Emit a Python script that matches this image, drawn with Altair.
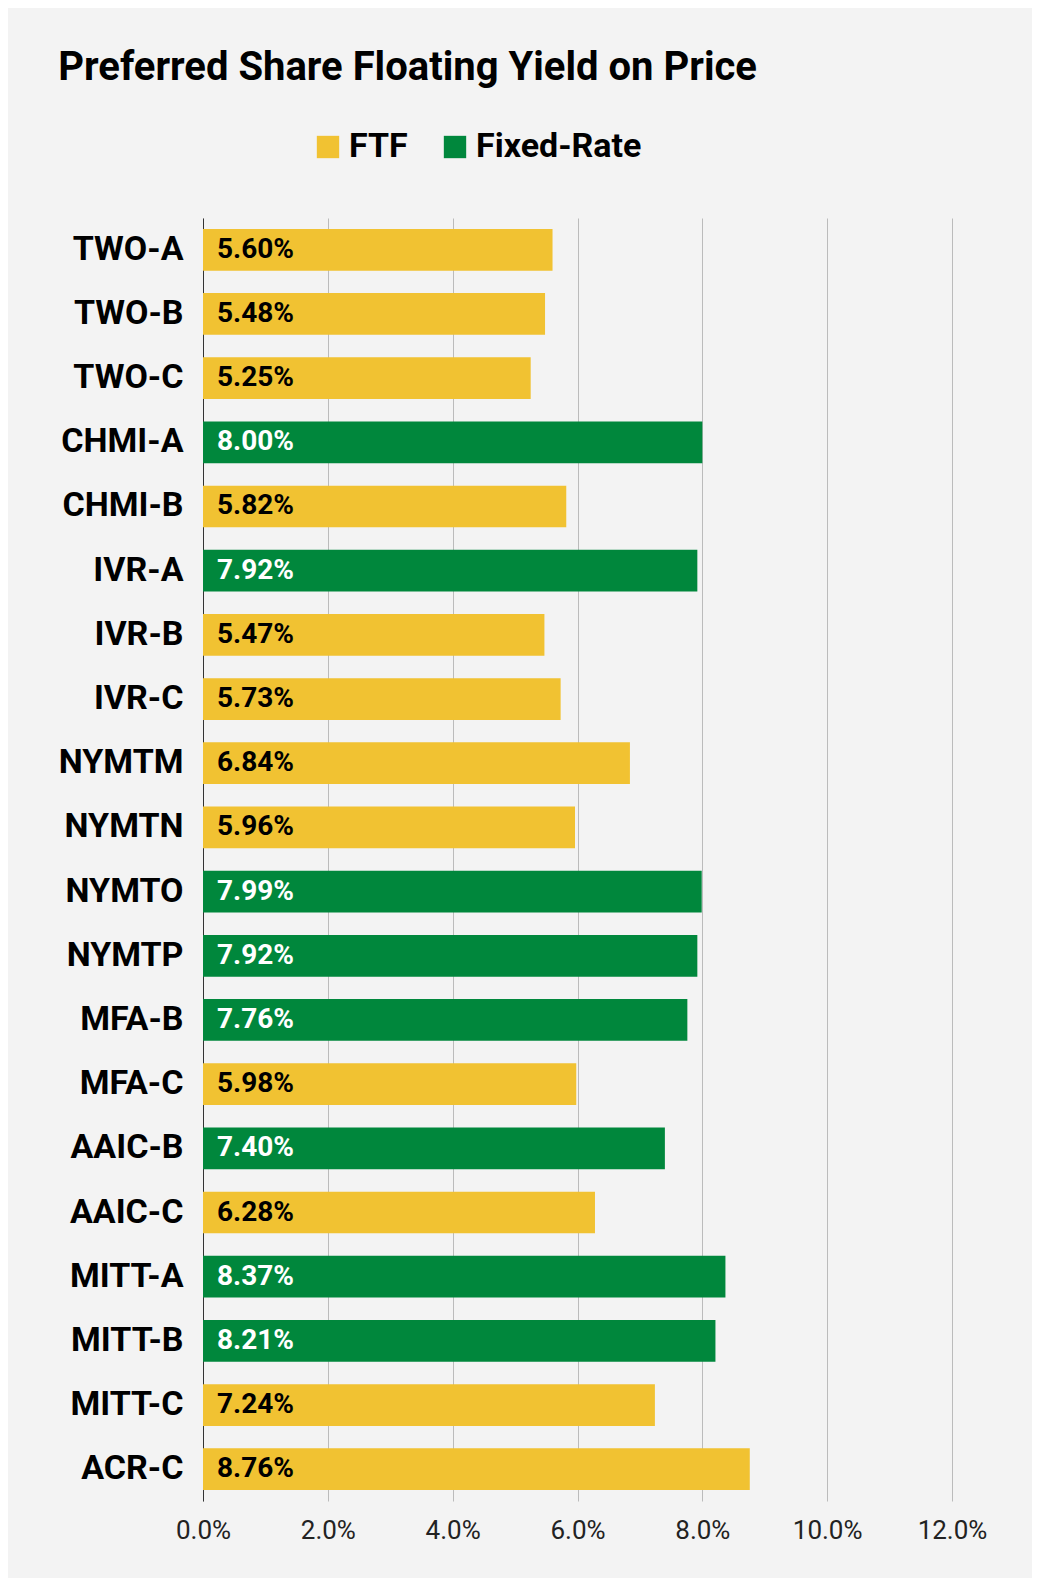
import pandas as pd
import altair as alt

tickers = ["TWO-A", "TWO-B", "TWO-C", "CHMI-A", "CHMI-B", "IVR-A", "IVR-B", "IVR-C",
           "NYMTM", "NYMTN", "NYMTO", "NYMTP", "MFA-B", "MFA-C", "AAIC-B", "AAIC-C",
           "MITT-A", "MITT-B", "MITT-C", "ACR-C"]
yields = [5.60, 5.48, 5.25, 8.00, 5.82, 7.92, 5.47, 5.73, 6.84, 5.96,
          7.99, 7.92, 7.76, 5.98, 7.40, 6.28, 8.37, 8.21, 7.24, 8.76]
types = ["FTF", "FTF", "FTF", "Fixed-Rate", "FTF", "Fixed-Rate", "FTF", "FTF", "FTF", "FTF",
         "Fixed-Rate", "Fixed-Rate", "Fixed-Rate", "FTF", "Fixed-Rate", "FTF",
         "Fixed-Rate", "Fixed-Rate", "FTF", "FTF"]

df = pd.DataFrame({"ticker": tickers, "y": [v / 100 for v in yields], "type": types})
df["label"] = [f"{v:.2f}%" for v in yields]

font = "Roboto"
y_enc = alt.Y("ticker:N", sort=tickers, title=None,
              scale=alt.Scale(paddingInner=0.35, paddingOuter=0.17),
              axis=alt.Axis(labelFontSize=34, labelFontWeight="bold", labelColor="#000",
                            labelPadding=20, ticks=False, domainColor="#333", labelFont=font))

bars = alt.Chart(df).mark_bar().encode(
    x=alt.X("y:Q", title=None, scale=alt.Scale(domain=[0, 0.12]),
            axis=alt.Axis(format=".1%", values=[0, .02, .04, .06, .08, .10, .12],
                          labelFontSize=26, labelColor="#222", gridColor="#bbb",
                          domain=False, ticks=False, labelPadding=16, labelFont=font,
                          labelFlush=False, labelOverlap=False, labelBound=False)),
    y=y_enc,
    color=alt.Color("type:N", sort=["FTF", "Fixed-Rate"],
                    scale=alt.Scale(domain=["FTF", "Fixed-Rate"], range=["#f1c232", "#00873c"]),
                    legend=alt.Legend(title=None, orient="none", direction="horizontal",
                                      legendX=108, legendY=-88,
                                      symbolType="square", symbolSize=500, labelFontSize=34,
                                      labelFontWeight="bold", labelColor="#000", labelFont=font,
                                      labelLimit=0, columnPadding=30, symbolOffset=0)),
)

text = alt.Chart(df).mark_text(align="left", dx=14, fontSize=28, fontWeight="bold", font=font).encode(
    x=alt.datum(0),
    y=alt.Y("ticker:N", sort=tickers),
    text="label:N",
    color=alt.Color("type:N", scale=alt.Scale(domain=["FTF", "Fixed-Rate"], range=["#000", "#fff"]),
                    legend=None),
)

chart = (bars + text).resolve_scale(color="independent").properties(
    width=1024, height=1570, background="#f3f3f3",
    autosize=alt.AutoSizeParams(type="fit", contains="padding"),
    padding={"left": 50, "top": 40, "right": 45, "bottom": 35},
    title=alt.TitleParams("Preferred Share Floating Yield on Price", anchor="start", fontSize=40,
                          fontWeight="bold", font=font, color="#000", offset=130, frame="bounds"),
).configure_view(stroke=None)

chart.save("out.html", embed_options={"renderer": "svg", "actions": False})
